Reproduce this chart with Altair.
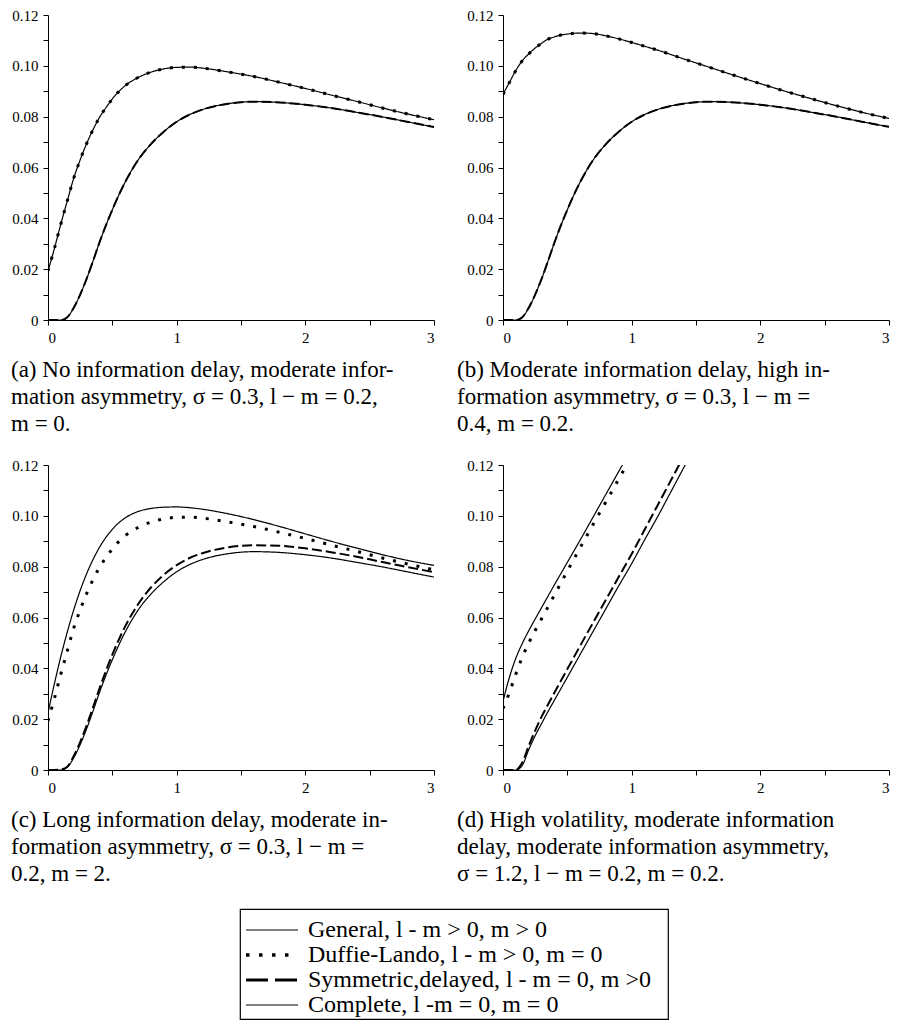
import altair as alt
import pandas as pd

# ---------------- data ----------------
T = [0, 0.05, 0.1, 0.15, 0.2, 0.25, 0.3, 0.35, 0.4, 0.45, 0.5, 0.6, 0.7, 0.8,
     0.9, 1.0, 1.1, 1.2, 1.4, 1.6, 1.8, 2.0, 2.2, 2.4, 2.6, 2.8, 3.0]

# panel (a)
A_GENERAL = [0.0193, 0.0282, 0.0378, 0.0469, 0.0558, 0.0630, 0.0694, 0.0749, 0.0797,
             0.0835, 0.0870, 0.0922, 0.0954, 0.0975, 0.0988, 0.0994, 0.0995, 0.0991,
             0.0976, 0.0958, 0.0935, 0.0911, 0.0885, 0.0860, 0.0834, 0.0810, 0.0788]
A_DUFFIE = [0.0193, 0.0282, 0.0378, 0.0469, 0.0558, 0.0630, 0.0694, 0.0749, 0.0797,
            0.0835, 0.0870, 0.0922, 0.0954, 0.0975, 0.0988, 0.0994, 0.0995, 0.0991,
            0.0976, 0.0958, 0.0935, 0.0911, 0.0885, 0.0860, 0.0834, 0.0810, 0.0788]
A_SYMMETRIC = [0, 0, 0, 0.0011, 0.0048, 0.0100, 0.0162, 0.0232, 0.0305, 0.0372, 0.0434,
               0.0543, 0.0629, 0.0692, 0.0741, 0.0780, 0.0808, 0.0828, 0.0851, 0.0859,
               0.0856, 0.0847, 0.0834, 0.0817, 0.0799, 0.0779, 0.0759]
A_COMPLETE = [0, 0, 0, 0.0011, 0.0048, 0.0100, 0.0162, 0.0232, 0.0305, 0.0372, 0.0434,
              0.0543, 0.0629, 0.0692, 0.0741, 0.0780, 0.0808, 0.0828, 0.0851, 0.0859,
              0.0856, 0.0847, 0.0834, 0.0817, 0.0799, 0.0779, 0.0759]

# panel (b)
B_GENERAL = [0.0888, 0.0935, 0.0982, 0.1020, 0.1047, 0.1070, 0.1089, 0.1105, 0.1114,
             0.1121, 0.1125, 0.1129, 0.1127, 0.1118, 0.1106, 0.1092, 0.1077, 0.1062,
             0.1028, 0.0995, 0.0962, 0.0930, 0.0899, 0.0870, 0.0842, 0.0816, 0.0793]
B_DUFFIE = [0.0888, 0.0935, 0.0982, 0.1020, 0.1047, 0.1070, 0.1089, 0.1105, 0.1114,
            0.1121, 0.1125, 0.1129, 0.1127, 0.1118, 0.1106, 0.1092, 0.1077, 0.1062,
            0.1028, 0.0995, 0.0962, 0.0930, 0.0899, 0.0870, 0.0842, 0.0816, 0.0793]
B_SYMMETRIC = [0, 0, 0, 0.0011, 0.0048, 0.0100, 0.0162, 0.0232, 0.0305, 0.0372, 0.0434,
               0.0543, 0.0629, 0.0692, 0.0741, 0.0780, 0.0808, 0.0828, 0.0851, 0.0859,
               0.0856, 0.0847, 0.0834, 0.0817, 0.0799, 0.0779, 0.0760]
B_COMPLETE = [0, 0, 0, 0.0011, 0.0048, 0.0100, 0.0162, 0.0232, 0.0305, 0.0372, 0.0434,
              0.0543, 0.0629, 0.0692, 0.0741, 0.0780, 0.0808, 0.0828, 0.0851, 0.0859,
              0.0856, 0.0847, 0.0834, 0.0817, 0.0799, 0.0779, 0.0760]

# panel (c)
C_GENERAL = [0.0225, 0.0340, 0.0447, 0.0543, 0.0630, 0.0706, 0.0772, 0.0828, 0.0876,
             0.0915, 0.0947, 0.0992, 0.1017, 0.1029, 0.1034, 0.1035, 0.1032, 0.1026,
             0.1008, 0.0985, 0.0958, 0.0929, 0.0900, 0.0873, 0.0847, 0.0824, 0.0805]
C_DUFFIE = [0.0193, 0.0282, 0.0378, 0.0469, 0.0558, 0.0630, 0.0694, 0.0749, 0.0797,
            0.0835, 0.0870, 0.0922, 0.0954, 0.0975, 0.0988, 0.0994, 0.0995, 0.0991,
            0.0976, 0.0958, 0.0935, 0.0911, 0.0885, 0.0860, 0.0834, 0.0810, 0.0788]
C_SYMMETRIC = [0, 0, 0.0002, 0.0013, 0.0055, 0.0110, 0.0175, 0.0247, 0.0320, 0.0390,
               0.0454, 0.0565, 0.0652, 0.0718, 0.0768, 0.0806, 0.0834, 0.0853, 0.0876,
               0.0884, 0.0882, 0.0872, 0.0857, 0.0839, 0.0818, 0.0798, 0.0778]
C_COMPLETE = [0, 0, 0, 0.0011, 0.0048, 0.0100, 0.0162, 0.0232, 0.0305, 0.0372, 0.0434,
              0.0543, 0.0629, 0.0692, 0.0741, 0.0780, 0.0808, 0.0828, 0.0851, 0.0859,
              0.0856, 0.0847, 0.0834, 0.0817, 0.0799, 0.0779, 0.0759]

# panel (d)  (curves leave the plot through the top edge)
D_T = [0, 0.05, 0.1, 0.15, 0.2, 0.25, 0.3, 0.35, 0.4, 0.45, 0.5, 0.6, 0.7, 0.8,
       0.9, 1.0, 1.1, 1.2, 1.3, 1.4, 1.5]
D_GENERAL = [0.0270, 0.0365, 0.0440, 0.0498, 0.0548, 0.0594, 0.0639, 0.0684, 0.0729,
             0.0773, 0.0817, 0.0905, 0.0995, 0.1085, 0.1175, 0.1265]
D_DUFFIE = [0.0242, 0.0305, 0.0378, 0.0444, 0.0500, 0.0549, 0.0595, 0.0642, 0.0689,
            0.0736, 0.0783, 0.0875, 0.0966, 0.1055, 0.1145, 0.1235]
D_SYMMETRIC = [0, 0, 0.0001, 0.0030, 0.0095, 0.0155, 0.0210, 0.0258, 0.0305, 0.0351,
               0.0397, 0.0489, 0.0580, 0.0670, 0.0760, 0.0850, 0.0945, 0.1040, 0.1135,
               0.1230]
D_COMPLETE = [0, 0, 0, 0.0018, 0.0080, 0.0135, 0.0183, 0.0230, 0.0275, 0.0320, 0.0365,
              0.0455, 0.0545, 0.0635, 0.0725, 0.0812, 0.0905, 0.0995, 0.1090, 0.1185,
              0.1280]

SERIES = [
    "General, l - m > 0, m > 0",
    "Duffie-Lando, l - m > 0, m = 0",
    "Symmetric,delayed, l - m = 0, m >0",
    "Complete, l -m = 0, m = 0",
]

CAPTION_A = ["(a) No information delay, moderate infor-",
             "mation asymmetry, σ = 0.3, l − m = 0.2,",
             "m = 0."]
CAPTION_B = ["(b) Moderate information delay, high in-",
             "formation asymmetry, σ = 0.3, l − m =",
             "0.4, m = 0.2."]
CAPTION_C = ["(c) Long information delay, moderate in-",
             "formation asymmetry, σ = 0.3, l − m =",
             "0.2, m = 2."]
CAPTION_D = ["(d) High volatility, moderate information",
             "delay, moderate information asymmetry,",
             "σ = 1.2, l − m = 0.2, m = 0.2."]

Y_TICKS = [0, 0.01, 0.02, 0.03, 0.04, 0.05, 0.06, 0.07, 0.08, 0.09, 0.10, 0.11, 0.12]
X_TICKS = [0, 0.5, 1, 1.5, 2, 2.5, 3]

# ---------------- styles ----------------
PLOT_STYLE = {
    SERIES[0]: dict(strokeWidth=1.2, strokeDash=[1, 0]),
    SERIES[1]: dict(strokeWidth=3, strokeDash=[3, 9]),
    SERIES[2]: dict(strokeWidth=2, strokeDash=[10, 4]),
    SERIES[3]: dict(strokeWidth=1.2, strokeDash=[1, 0]),
}
LEGEND_STYLE = {
    SERIES[0]: dict(strokeWidth=1.2, strokeDash=[1, 0]),
    SERIES[1]: dict(strokeWidth=3.5, strokeDash=[3.5, 9.5]),
    SERIES[2]: dict(strokeWidth=3, strokeDash=[22, 7]),
    SERIES[3]: dict(strokeWidth=1.2, strokeDash=[1, 0]),
}
DRAW_ORDER = [SERIES[3], SERIES[2], SERIES[0], SERIES[1]]
SERIF = "Liberation Serif"

x_axis = alt.Axis(values=X_TICKS, title=None, grid=False,
                  labelExpr="datum.value % 1 == 0 ? format(datum.value, 'd') : ''")
y_axis = alt.Axis(values=Y_TICKS, title=None, grid=False,
                  labelExpr="datum.value == 0 ? '0' : (round(datum.value * 100) % 2 == 0 ? format(datum.value, '.2f') : '')")


def make_panel(t_values, curves, caption, dx):
    rows = []
    for name, vals in zip(SERIES, curves):
        for t, v in zip(t_values, vals):
            rows.append({"t": t, "v": v, "series": name})
    df = pd.DataFrame(rows)
    x = alt.X("t:Q", scale=alt.Scale(domain=[0, 3], nice=False, zero=False), axis=x_axis)
    y = alt.Y("v:Q", scale=alt.Scale(domain=[0, 0.12], nice=False), axis=y_axis)
    layers = []
    for name in DRAW_ORDER:
        layers.append(
            alt.Chart(df)
            .transform_filter(alt.datum.series == name)
            .mark_line(color="black", interpolate="monotone", clip=True, **PLOT_STYLE[name])
            .encode(x=x, y=y)
        )
    return alt.layer(*layers).properties(
        width=386, height=305,
        title=alt.TitleParams(text=caption, orient="bottom", anchor="start", frame="group",
                              font=SERIF, fontSize=23, fontWeight="normal", color="black",
                              lineHeight=27, offset=14, dx=dx),
    )


pa = make_panel(T, [A_GENERAL, A_DUFFIE, A_SYMMETRIC, A_COMPLETE], CAPTION_A, -37)
pb = make_panel(T, [B_GENERAL, B_DUFFIE, B_SYMMETRIC, B_COMPLETE], CAPTION_B, -46)
pc = make_panel(T, [C_GENERAL, C_DUFFIE, C_SYMMETRIC, C_COMPLETE], CAPTION_C, -37)
pd_ = make_panel(D_T, [D_GENERAL, D_DUFFIE, D_SYMMETRIC, D_COMPLETE], CAPTION_D, -46)

# ---------------- legend box ----------------
leg_df = pd.DataFrame({"series": SERIES})
leg_y = alt.Y("series:N", sort=SERIES, axis=None,
              scale=alt.Scale(type="point", range=[21, 96], padding=0))
leg_layers = []
for name in SERIES:
    leg_layers.append(
        alt.Chart(leg_df)
        .transform_filter(alt.datum.series == name)
        .mark_rule(color="black", **LEGEND_STYLE[name])
        .encode(x=alt.value(6), x2=alt.value(58), y=leg_y)
    )
leg_layers.append(
    alt.Chart(leg_df)
    .mark_text(align="left", baseline="middle", font=SERIF, fontSize=24, color="black")
    .encode(x=alt.value(68), y=leg_y, text="series:N")
)
legend_box = alt.layer(*leg_layers).properties(
    width=428, height=110, view=alt.ViewBackground(stroke="black", strokeWidth=1.2)
)
spacer = alt.Chart(pd.DataFrame({"k": [0]})).mark_point(opacity=0, size=0).properties(width=1, height=1)

row1 = alt.hconcat(pa, pb, spacing=22)
row2 = alt.hconcat(pc, pd_, spacing=22)
row3 = alt.hconcat(spacer, legend_box, spacing=190)

chart = (
    alt.vconcat(row1, row2, row3, spacing=22)
    .properties(padding={"left": 3, "top": 0, "right": 0, "bottom": 0})
    .configure_view(stroke=None)
    .configure_axis(domainColor="black", tickColor="black", labelColor="black",
                    labelFont=SERIF, labelFontSize=15, tickSize=5, labelPadding=5,
                    domainWidth=1, tickWidth=1)
)

chart.save("out.html", embed_options={"renderer": "svg", "actions": False})
